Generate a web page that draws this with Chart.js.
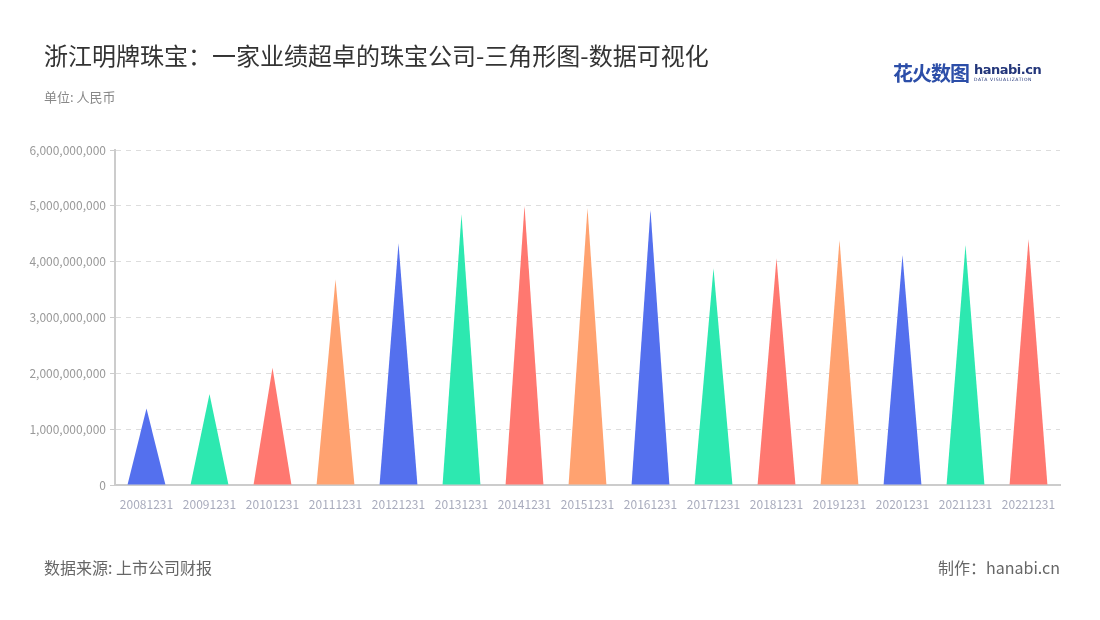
<!DOCTYPE html>
<html>
<head>
<meta charset="utf-8">
<script src="https://cdn.jsdelivr.net/npm/chart.js@4/dist/chart.umd.min.js"></script>
<style>
  body { margin: 0; background: #fff; font-family: "Noto Sans CJK SC", "Noto Sans", sans-serif; }
  #wrap { position: relative; width: 1100px; height: 620px; overflow: hidden; }
  #title { position: absolute; left: 44px; top: 37px; font-size: 24px; color: #333; }
  #unit { position: absolute; left: 44px; top: 87px; font-size: 13px; color: #888; }
  #source { position: absolute; left: 44px; top: 555px; font-size: 16px; color: #666; }
  #maker { position: absolute; right: 40px; top: 555px; font-size: 16px; color: #666; }
  #logo { position: absolute; left: 893px; top: 58px; display: flex; align-items: center; }
  #logo .cn { font-size: 20px; font-weight: bold; color: #2c4ea8; letter-spacing: -1px; }
  #logo .en { margin-left: 5px; line-height: 1; }
  #logo .en b { display: block; font-family: "DejaVu Sans", sans-serif; font-size: 13px; color: #23367a; letter-spacing: -0.5px; }
  #logo .en i { display: block; font-style: normal; font-family: "DejaVu Sans", sans-serif; font-size: 4.5px; color: #23367a; letter-spacing: 0.6px; margin-top: 2px; }
  canvas { position: absolute; left: 0; top: 0; }
</style>
</head>
<body>
<div id="wrap">
  <canvas id="chart" width="1100" height="620"></canvas>
  <div id="title">浙江明牌珠宝：一家业绩超卓的珠宝公司-三角形图-数据可视化</div>
  <div id="unit">单位: 人民币</div>
  <div id="logo"><span class="cn">花火数图</span><span class="en"><b>hanabi.cn</b><i>DATA VISUALIZATION</i></span></div>
  <div id="source">数据来源: 上市公司财报</div>
  <div id="maker">制作：hanabi.cn</div>
</div>
<script>
const periods = ["20081231", "20091231", "20101231", "20111231", "20121231", "20131231", "20141231", "20151231",
  "20161231", "20171231", "20181231", "20191231", "20201231", "20211231", "20221231"];
const revenue = [1.37e9, 1.63e9, 2.10e9, 3.68e9, 4.33e9, 4.85e9, 5.00e9, 4.96e9,
  4.93e9, 3.88e9, 4.06e9, 4.39e9, 4.12e9, 4.30e9, 4.40e9];
const palette = ["#5470ee", "#2de8b0", "#ff7870", "#ffa270"];

// draw each bar element as a triangle, using the bar geometry from the scales
const trianglePlugin = {
  id: "triangles",
  afterDatasetsDraw(chart) {
    const c = chart.ctx;
    chart.getSortedVisibleDatasetMetas().forEach(meta => {
      meta.data.forEach((bar, i) => {
        const { x, y, base, width } = bar.getProps(["x", "y", "base", "width"], true);
        c.save();
        c.fillStyle = palette[i % palette.length];
        c.beginPath();
        c.moveTo(x - width / 2, base);
        c.lineTo(x, y);
        c.lineTo(x + width / 2, base);
        c.closePath();
        c.fill();
        c.restore();
      });
    });
  }
};

Chart.defaults.font.family = '"Noto Sans CJK SC", "Noto Sans", sans-serif';

new Chart(document.getElementById("chart"), {
  type: "bar",
  data: {
    labels: periods,
    datasets: [{
      data: revenue,
      backgroundColor: "rgba(0,0,0,0)",
      barPercentage: 0.6,
      categoryPercentage: 1
    }]
  },
  options: {
    responsive: false,
    animation: false,
    layout: { padding: { top: 150, right: 40, bottom: 105, left: 0 } },
    plugins: { legend: { display: false }, tooltip: { enabled: false } },
    scales: {
      x: {
        grid: { display: false, drawOnChartArea: false },
        border: { color: "#ccc", width: 2 },
        ticks: { color: "#a9acbd", font: { size: 12 }, maxRotation: 0, autoSkip: false, padding: 4 },
        afterFit: s => { s.height = 30; }
      },
      y: {
        min: 0,
        max: 6e9,
        ticks: {
          stepSize: 1e9,
          color: "#999",
          font: { size: 12 },
          padding: 4,
          callback: v => v.toLocaleString("en-US")
        },
        grid: { color: "#ddd", tickColor: "#ccc", tickLength: 5 },
        border: { color: "#ccc", width: 2, dash: [5, 5] },
        afterFit: s => { s.width = 115; }
      }
    }
  },
  plugins: [trianglePlugin]
});
</script>
</body>
</html>
